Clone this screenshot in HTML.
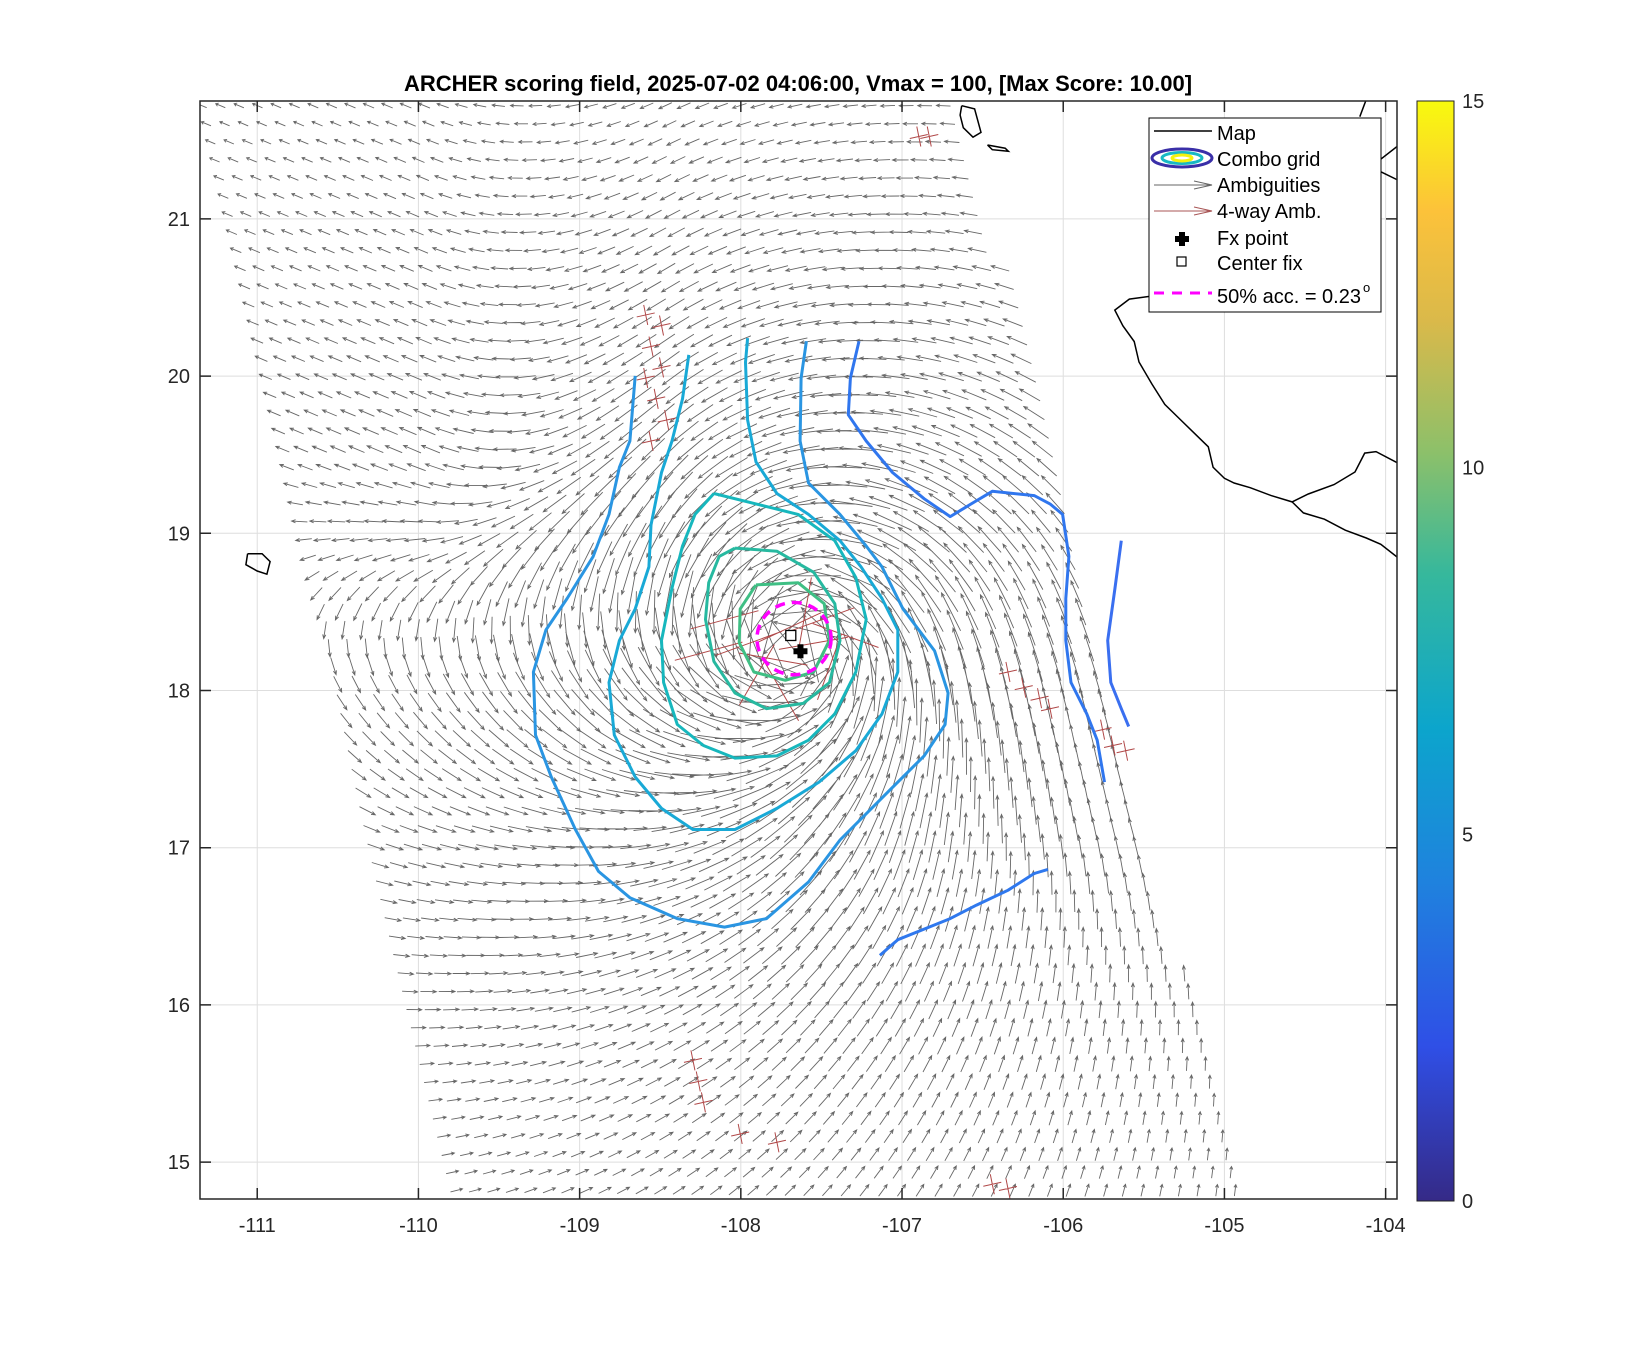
<!DOCTYPE html>
<html><head><meta charset="utf-8"><style>
html,body{margin:0;padding:0;background:#fff;}
svg{display:block;font-family:"Liberation Sans","DejaVu Sans",sans-serif;}
</style></head><body>
<svg id="fig" width="1646" height="1350" viewBox="0 0 1646 1350" xmlns="http://www.w3.org/2000/svg">
<defs>
<linearGradient id="parula" x1="0" y1="1" x2="0" y2="0">
<stop offset="0" stop-color="#352a87"/><stop offset="0.14" stop-color="#2f4fe6"/><stop offset="0.29" stop-color="#1f82de"/><stop offset="0.43" stop-color="#0ca5cc"/><stop offset="0.57" stop-color="#36b89c"/><stop offset="0.68" stop-color="#8cc06a"/><stop offset="0.8" stop-color="#dab94a"/><stop offset="0.9" stop-color="#fcc23a"/><stop offset="1" stop-color="#f8fa0d"/>
</linearGradient>
<clipPath id="axclip"><rect x="200" y="101" width="1197" height="1098"/></clipPath>
</defs>
<text x="798" y="91" text-anchor="middle" font-size="22" font-weight="bold" fill="#000">ARCHER scoring field, 2025-07-02 04:06:00, Vmax = 100, [Max Score: 10.00]</text>
<rect x="200" y="101" width="1197" height="1098" fill="#fff"/>
<g id="grid"></g>
<g id="plot" clip-path="url(#axclip)"></g>
<g id="axes"></g>
<g id="legend">
<rect x="1149" y="118" width="232" height="194" fill="#fff" stroke="#000" stroke-width="1"/>
<g><line x1="1154" y1="131" x2="1212" y2="131" stroke="#000" stroke-width="1.5"/><text x="1217" y="140" font-size="20">Map</text></g>
<g><ellipse cx="1182" cy="158" rx="30" ry="9" fill="none" stroke="#3a2fa8" stroke-width="3"/><ellipse cx="1182" cy="158" rx="20" ry="5.5" fill="none" stroke="#17b8c4" stroke-width="3"/><ellipse cx="1182" cy="158" rx="10" ry="3" fill="none" stroke="#f4f20e" stroke-width="3"/><text x="1217" y="166" font-size="20">Combo grid</text></g>
<g><line x1="1154" y1="185" x2="1212" y2="185" stroke="#666" stroke-width="1"/><polyline points="1194,181 1212,185 1194,189" fill="none" stroke="#666"/><text x="1217" y="192" font-size="20">Ambiguities</text></g>
<g><line x1="1154" y1="211" x2="1212" y2="211" stroke="#a85555" stroke-width="1"/><polyline points="1194,207 1212,211 1194,215" fill="none" stroke="#a85555"/><text x="1217" y="218" font-size="20">4-way Amb.</text></g>
<g><path d="M1179,232h6v4h4v6h-4v4h-6v-4h-4v-6h4z" fill="#000"/><text x="1217" y="245" font-size="20">Fx point</text></g>
<g><rect x="1177" y="257" width="9" height="9" fill="none" stroke="#000" stroke-width="1.2"/><text x="1217" y="270" font-size="20">Center fix</text></g>
<g><line x1="1154" y1="293" x2="1212" y2="293" stroke="#ff00ff" stroke-width="3" stroke-dasharray="10,8"/><text x="1217" y="303" font-size="20">50% acc. = 0.23</text><text x="1363" y="292" font-size="13">o</text></g>
</g>
<g id="colorbar">
<rect x="1417" y="101" width="37" height="1100" fill="url(#parula)" stroke="#222" stroke-width="1"/>
</g>
</svg>
<script>
// ---- data ----
const lonTicks = [-111,-110,-109,-108,-107,-106,-105,-104];
const latTicks = [15,16,17,18,19,20,21];
const cbTicks = [0,5,10,15];
const stormCenter = [-107.65,18.28];
const centerFix = [-107.69,18.35];
const fxPoint = [-107.63,18.25];
const acc50Radius = 0.23;
const swathLeft = [[-111.40,21.75],[-109.80,14.76]];
const swathRight = [[-106.64,21.75],[-104.86,14.76]];
const contourOuter = [[-108.655,20.001],[-108.688,19.587],[-108.753,19.420],[-108.818,19.120],[-108.916,18.853],[-109.078,18.585],[-109.209,18.385],[-109.287,18.118],[-109.274,17.717],[-109.176,17.450],[-109.026,17.116],[-108.883,16.849],[-108.688,16.682],[-108.394,16.549],[-108.101,16.495],[-107.841,16.549],[-107.580,16.782],[-107.385,17.049],[-107.124,17.317],[-106.863,17.584],[-106.733,17.784],[-106.714,17.984],[-106.798,18.252],[-106.994,18.519],[-107.124,18.786],[-107.222,18.919],[-107.385,19.120],[-107.580,19.320],[-107.632,19.587],[-107.626,19.988],[-107.593,20.222]];
const contour2 = [[-108.323,20.135],[-108.362,19.855],[-108.427,19.587],[-108.492,19.387],[-108.557,19.053],[-108.570,18.786],[-108.655,18.519],[-108.753,18.318],[-108.818,18.051],[-108.785,17.717],[-108.655,17.450],[-108.492,17.250],[-108.297,17.116],[-108.036,17.116],[-107.776,17.250],[-107.515,17.417],[-107.287,17.617],[-107.124,17.851],[-107.026,18.118],[-107.026,18.385],[-107.124,18.585],[-107.254,18.786],[-107.385,18.953],[-107.580,19.120],[-107.776,19.253],[-107.906,19.454],[-107.958,19.721],[-107.971,20.088],[-107.958,20.242]];
const contour3 = [[-108.167,19.253],[-107.906,19.187],[-107.645,19.120],[-107.417,18.953],[-107.287,18.719],[-107.222,18.452],[-107.287,18.118],[-107.417,17.851],[-107.580,17.684],[-107.776,17.584],[-108.036,17.570],[-108.232,17.650],[-108.394,17.784],[-108.479,18.051],[-108.492,18.318],[-108.427,18.652],[-108.362,18.919],[-108.284,19.120],[-108.167,19.253]];
const contour4 = [[-108.036,18.906],[-107.776,18.886],[-107.548,18.752],[-107.417,18.552],[-107.385,18.318],[-107.450,18.051],[-107.613,17.918],[-107.841,17.884],[-108.036,17.984],[-108.167,18.185],[-108.219,18.452],[-108.199,18.686],[-108.134,18.853],[-108.036,18.906]];
const contour5 = [[-107.906,18.672],[-107.645,18.686],[-107.483,18.552],[-107.450,18.318],[-107.548,18.118],[-107.724,18.065],[-107.919,18.118],[-108.010,18.305],[-108.004,18.519],[-107.906,18.672]];
const contourEast = [[-107.267,20.222],[-107.320,19.988],[-107.333,19.754],[-107.222,19.587],[-107.059,19.387],[-106.863,19.220],[-106.701,19.106],[-106.571,19.187],[-106.440,19.267],[-106.180,19.240],[-106.082,19.187],[-106.004,19.120],[-105.965,18.853],[-105.984,18.585],[-105.984,18.318],[-105.952,18.051],[-105.854,17.851],[-105.789,17.684],[-105.744,17.417]];
const contourFarEast = [[-105.640,18.953],[-105.679,18.652],[-105.724,18.318],[-105.705,18.051],[-105.640,17.884],[-105.594,17.771]];
const contourSouth = [[-107.137,16.315],[-107.026,16.415],[-106.863,16.482],[-106.701,16.549],[-106.538,16.635],[-106.343,16.729],[-106.180,16.836],[-106.095,16.862]];
const coastMain = [[-105.30,20.53],[-105.59,20.49],[-105.68,20.42],[-105.63,20.32],[-105.56,20.22],[-105.53,20.09],[-105.45,19.95],[-105.37,19.82],[-105.27,19.72],[-105.17,19.62],[-105.10,19.55],[-105.07,19.42],[-105.00,19.35],[-104.94,19.32],[-104.84,19.29],[-104.71,19.24],[-104.58,19.20],[-104.48,19.25],[-104.32,19.31],[-104.19,19.39],[-104.13,19.51],[-104.06,19.52],[-103.93,19.45]];
const coastSouth = [[-104.58,19.20],[-104.51,19.13],[-104.38,19.09],[-104.25,19.02],[-104.12,18.97],[-104.03,18.93],[-103.93,18.85]];
const islandWest = [[-111.06,18.87],[-110.97,18.87],[-110.92,18.82],[-110.94,18.74],[-111.00,18.76],[-111.07,18.80],[-111.06,18.87]];
const islandMaria1 = [[-106.63,21.72],[-106.55,21.70],[-106.51,21.55],[-106.56,21.52],[-106.62,21.58],[-106.64,21.66],[-106.63,21.72]];
const islandMaria2 = [[-106.47,21.47],[-106.36,21.45],[-106.34,21.43],[-106.44,21.44],[-106.47,21.47]];
const coastTopRight = [[-104.12,21.76],[-104.16,21.65]];
const coastTopRight2 = [[-103.93,21.46],[-104.03,21.38],[-104.05,21.31],[-103.93,21.25]];
const redCrossLon = [-108.590,-108.492,-108.557,-108.492,-108.590,-108.525,-108.460,-108.557,-106.343,-106.245,-106.147,-106.082,-105.756,-105.691,-105.613,-108.297,-108.264,-108.232,-108.004,-107.776,-106.440,-106.343,-106.896,-106.831];
const redCrossLat = [20.389,20.322,20.188,20.055,19.988,19.855,19.721,19.587,18.118,18.018,17.951,17.884,17.751,17.650,17.617,15.647,15.513,15.380,15.179,15.126,14.859,14.832,21.524,21.524];
const redCenterLon = [-108.10,-107.95,-107.80,-107.70,-107.55,-107.45,-107.35,-107.90,-107.60,-107.75,-107.50,-108.20];
const redCenterLat = [18.45,18.30,18.20,18.40,18.30,18.15,18.35,18.10,18.50,18.00,18.45,18.25];
const redCenterAng = [15,20,-10,25,10,70,-20,60,80,-60,20,15];
const gridStep = 0.115;

// ---- axis functions ----
const X = lon => 200 + (lon + 111.355) * 161.2;
const Y = lat => 101 + (21.75 - lat) * 157.2;
const NS = "http://www.w3.org/2000/svg";
function mk(tag, attrs, parent){const e=document.createElementNS(NS,tag);for(const k in attrs)e.setAttribute(k,attrs[k]);parent.appendChild(e);return e;}
const grid=document.getElementById('grid'), plot=document.getElementById('plot'), axes=document.getElementById('axes'), cb=document.getElementById('colorbar');

lonTicks.forEach(v=>{
  const l=mk('line',{x1:X(v),x2:X(v),y1:101,y2:1199,stroke:'#dedede','stroke-width':1},grid);
  
  
});
latTicks.forEach(v=>{
  const l=mk('line',{x1:200,x2:1397,y1:Y(v),y2:Y(v),stroke:'#dedede','stroke-width':1},grid);
  
  
});

function pts(arr){return arr.map(p=>X(p[0]).toFixed(1)+','+Y(p[1]).toFixed(1)).join(' ');}
function interpEdge(edge, lat){const t=(edge[0][1]-lat)/(edge[0][1]-edge[1][1]);return edge[0][0]+t*(edge[1][0]-edge[0][0]);}

// wind arrows
const arrowG=mk('g',{stroke:'#666','stroke-width':0.9,fill:'none'},plot);


let d='';
for(let lat=21.72; lat>14.78; lat-=gridStep){
  const lo=interpEdge(swathLeft,lat), hi=interpEdge(swathRight,lat);
  for(let lon=lo+0.05; lon<hi-0.02; lon+=gridStep){
    const dx=(lon-stormCenter[0]), dy=(lat-stormCenter[1]);
    const r=Math.max(Math.hypot(dx,dy),0.08);
    const tx=-dy/r, ty=dx/r, ix=-dx/r, iy=-dy/r;
    const south=Math.min(1,Math.max(0,(-dy+0.3)/1.5));
    const a=(12+33*south)*Math.PI/180;
    let ux=Math.cos(a)*tx+Math.sin(a)*ix, uy=Math.cos(a)*ty+Math.sin(a)*iy;
    const w=Math.min(1,Math.max(0,(-dx-0.8)/1.5))*Math.min(1,Math.max(0,(dy+0.3)/1.5));
    ux=(1-w)*ux+w*(-1); uy=(1-w)*uy+w*0.42;
    const n=Math.hypot(ux,uy); ux/=n; uy/=n;
    const len=8+66*Math.exp(-r/1.5);
    const px=X(lon), py=Y(lat);
    const sx=ux, sy=-uy;
    const x1=px-sx*len/2, y1=py-sy*len/2, x2=px+sx*len/2, y2=py+sy*len/2;
    const h=Math.min(4,len*0.25);
    const bx=x2-sx*h, by=y2-sy*h;
    d+=`M${x1.toFixed(1)},${y1.toFixed(1)}L${x2.toFixed(1)},${y2.toFixed(1)}M${(bx-sy*1.6).toFixed(1)},${(by+sx*1.6).toFixed(1)}L${x2.toFixed(1)},${y2.toFixed(1)}L${(bx+sy*1.6).toFixed(1)},${(by-sx*1.6).toFixed(1)}`;
  }
}
mk('path',{d:d},arrowG);

// red 4-way crosses
const redG=mk('g',{stroke:'#b04848','stroke-width':1,fill:'none'},plot);


let rd='';
redCrossLon.forEach((lon,i)=>{
  const px=X(lon), py=Y(redCrossLat[i]);
  rd+=`M${px-9},${py+2}L${px+9},${py-2}M${px-2},${py-10}L${px+2},${py+10}`;
});
redCenterLon.forEach((lon,i)=>{
  const px=X(lon), py=Y(redCenterLat[i]); const a=redCenterAng[i]*Math.PI/180;
  const c=Math.cos(a)*35, s=Math.sin(a)*35;
  rd+=`M${(px-c).toFixed(1)},${(py+s).toFixed(1)}L${(px+c).toFixed(1)},${(py-s).toFixed(1)}`;
});
mk('path',{d:rd},redG);

// coast
[[coastMain,'coastline-mexico'],[coastSouth,'coastline-south'],[islandWest,'island-west'],[islandMaria1,'island-maria-1'],[islandMaria2,'island-maria-2'],[coastTopRight,'coastline-top'],[coastTopRight2,'coastline-top-2']].forEach(([arr,name])=>{
  const e=mk('polyline',{points:pts(arr),fill:'none',stroke:'#000','stroke-width':1.5},plot);
  
  
});

// contours
[[contourOuter,'#2a95e2','contour-outer'],[contour2,'#19a9d6','contour-2'],[contour3,'#17b7bd','contour-3'],[contour4,'#27b9a0','contour-4'],[contour5,'#3fbf84','contour-5'],[contourEast,'#3076ee','contour-east'],[contourFarEast,'#3a6ff0','contour-far-east'],[contourSouth,'#2f78ee','contour-south']].forEach(([arr,col,name])=>{
  const e=mk('polyline',{points:pts(arr),fill:'none',stroke:col,'stroke-width':3,'stroke-linejoin':'round'},plot);
  
  
});

// 50% circle
const circ=mk('ellipse',{cx:X(stormCenter[0]-0.02),cy:Y(stormCenter[1]+0.05),rx:acc50Radius*161.2,ry:acc50Radius*157.2,fill:'none',stroke:'#ff00ff','stroke-width':3.5,'stroke-dasharray':'10,7'},plot);


const sq=mk('rect',{x:X(centerFix[0])-5,y:Y(centerFix[1])-5,width:10,height:10,fill:'#fff',stroke:'#000','stroke-width':1.3},plot);


const fx=X(fxPoint[0]), fy=Y(fxPoint[1]);
const fp=mk('path',{d:`M${fx-3},${fy-7}h6v4h4v6h-4v4h-6v-4h-4v-6h4z`,fill:'#000'},plot);



// axes box + ticks
const box=mk('rect',{x:200,y:101,width:1197,height:1098,fill:'none',stroke:'#262626','stroke-width':1.5},axes);


let td='';
lonTicks.forEach(v=>{
  const x=X(v); td+=`M${x},1199v-11M${x},101v11`;
  const t=mk('text',{x:x,y:1232,'text-anchor':'middle','font-size':20,fill:'#262626'},axes); t.textContent=v;
  
  
});
latTicks.forEach(v=>{
  const y=Y(v); td+=`M200,${y}h11M1397,${y}h-11`;
  const t=mk('text',{x:190,y:y+7,'text-anchor':'end','font-size':20,fill:'#262626'},axes); t.textContent=v;
  
  
});
mk('path',{d:td,stroke:'#262626','stroke-width':1.5},axes);
cbTicks.forEach(v=>{
  const y=1201-v/15*1100;
  const t=mk('text',{x:1462,y:y+7,'font-size':20,fill:'#262626'},cb); t.textContent=v;
  
  
});
</script>
</body></html>
